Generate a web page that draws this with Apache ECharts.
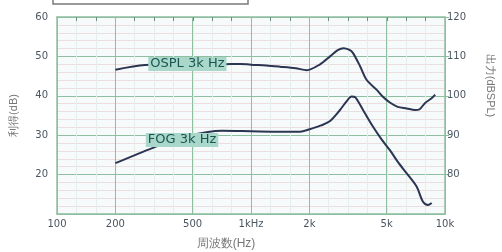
<!DOCTYPE html>
<html>
<head>
<meta charset="utf-8">
<script src="https://cdn.jsdelivr.net/npm/echarts@6/dist/echarts.min.js"></script>
<style>
  html, body { margin: 0; padding: 0; background: #fff; }
  #chart { width: 502px; height: 252px; }
</style>
</head>
<body>
<div id="chart"></div>
<script>
// eje X (Hz) y etiquetas
const xTickFreqs = [100, 200, 500, 1000, 2000, 5000, 10000];
const xTickLabels = ['100', '200', '500', '1kHz', '2k', '5k', '10k'];

// OSPL 3k Hz (dBSPL, eje derecho)
const osplFreq = [200, 284, 470, 700, 880, 1000, 1200, 1410, 1700, 1940, 2270, 2555, 2800, 3000, 3200, 3350, 3650, 3950, 4450, 4800, 5200, 5700, 6350, 7000, 7400, 7900, 8500, 8900];
const osplValue = [106.6, 107.8, 108, 108, 108.1, 107.9, 107.7, 107.4, 107, 106.5, 108, 110, 111.6, 112.1, 111.7, 110.9, 107.5, 104, 101.5, 99.7, 98.3, 97.2, 96.8, 96.4, 96.6, 98.2, 99.3, 100.3];

// FOG 3k Hz (dB, eje izquierdo)
const fogFreq = [200, 312, 440, 600, 709, 1000, 1400, 1790, 2090, 2300, 2555, 2875, 3100, 3300, 3450, 3780, 4250, 4700, 5200, 5700, 6350, 7150, 7700, 8170, 8540];
const fogValue = [22.9, 26.8, 29.5, 30.8, 31.1, 31, 30.9, 30.9, 31.8, 32.5, 33.6, 36.4, 38.5, 39.8, 39.6, 36.4, 32.2, 29, 26.2, 23.3, 20.3, 16.9, 13.1, 12.3, 12.8];

// etiquetas de las curvas
const curveLabels = ['OSPL 3k Hz', 'FOG 3k Hz'];
const labelFreq = [470, 441];
const labelValue = [108.1, 28.8];

const lg = v => Math.log10(v);
const toPairs = (f, v) => f.map((x, i) => [lg(x), v[i]]);

const green = '#8fbfa0';
const lineColor = '#2b3552';
const textColor = '#4a5560';

const chart = echarts.init(document.getElementById('chart'));

function curveLabel(i) {
    return {
        symbol: 'rect',
        symbolSize: 0,
        silent: true,
        label: {
            show: true,
            position: 'inside',
            formatter: curveLabels[i],
            backgroundColor: '#a9d8cb',
            color: '#1b5552',
            fontFamily: 'DejaVu Sans',
            fontSize: 13,
            padding: [1, 2, 0, 2]
        },
        data: [{ coord: [lg(labelFreq[i]), labelValue[i]] }]
    };
}

const option = {
    animation: false,
    backgroundColor: '#fff',
    grid: { left: 57, right: 57, top: 17, bottom: 38, backgroundColor: '#f6fafb', show: true, borderWidth: 0, outerBoundsMode: 'none' },
    graphic: [{
        type: 'rect',
        shape: { x: 53, y: -6, width: 195, height: 10 },
        style: { fill: '#fff', stroke: '#7a7a7a', lineWidth: 1.5 }
    }],
    xAxis: [{
        // rejilla menor y marcas superiores (cada 0.1 década)
        type: 'value', min: 2, max: 4, interval: 0.1, position: 'top', z: 0,
        axisLine: { show: true, lineStyle: { color: green, width: 1.5 } },
        axisTick: { show: true, inside: true, length: 4, lineStyle: { color: '#6d8f7d' } },
        axisLabel: { show: false },
        splitLine: { show: true, lineStyle: { color: '#e6eee9', width: 1 } }
    }, {
        type: 'value', min: 2, max: 4, position: 'bottom', z: 1,
        axisLine: { lineStyle: { color: green, width: 1.5 } },
        axisTick: { show: false, customValues: xTickFreqs.map(lg) },
        axisLabel: {
            customValues: xTickFreqs.map(lg),
            formatter: v => xTickLabels[xTickFreqs.findIndex(f => Math.abs(lg(f) - v) < 1e-6)],
            color: textColor, fontSize: 10, margin: 5, fontFamily: 'DejaVu Sans'
        },
        splitLine: { show: true, lineStyle: { color: green, width: 1 } },
        name: '周波数(Hz)', nameLocation: 'middle', nameGap: 24,
        nameTextStyle: { color: '#777', fontSize: 12, padding: [0, 50, 0, 0] }
    }],
    yAxis: [{
        type: 'value', min: 10, max: 60, interval: 10, position: 'left',
        axisLine: { show: true, lineStyle: { color: green, width: 1.5 } },
        axisTick: { show: false },
        axisLabel: { showMinLabel: false, color: textColor, fontSize: 10, margin: 9, fontFamily: 'DejaVu Sans' },
        splitLine: { lineStyle: { color: green, width: 1.2 } },
        minorTick: { show: false, splitNumber: 5 },
        minorSplitLine: { show: true, lineStyle: { color: '#ecdede', width: 1 } },
        name: '利得(dB)', nameLocation: 'middle', nameGap: 38,
        nameTextStyle: { color: '#777', fontSize: 11 }
    }, {
        type: 'value', min: 70, max: 120, interval: 10, position: 'right',
        axisLine: { show: true, lineStyle: { color: green, width: 1.5 } },
        axisTick: { show: true, length: 4, lineStyle: { color: green } },
        axisLabel: { showMinLabel: false, color: textColor, fontSize: 10, margin: 2, fontFamily: 'DejaVu Sans' },
        splitLine: { show: false },
        name: '出力(dBSPL)', nameLocation: 'middle', nameGap: 40, nameRotate: -90,
        nameTextStyle: { color: '#777', fontSize: 11, padding: [0, 60, 0, 0] }
    }],
    series: [{
        name: 'OSPL 3k Hz', type: 'line', yAxisIndex: 1, xAxisIndex: 1, z: 3,
        data: toPairs(osplFreq, osplValue),
        showSymbol: false, smooth: 0.3,
        lineStyle: { color: lineColor, width: 2 },
        markPoint: curveLabel(0)
    }, {
        name: 'FOG 3k Hz', type: 'line', yAxisIndex: 0, xAxisIndex: 1, z: 3,
        data: toPairs(fogFreq, fogValue),
        showSymbol: false, smooth: 0.3,
        lineStyle: { color: lineColor, width: 2 },
        markPoint: curveLabel(1)
    }]
};

chart.setOption(option);
</script>
</body>
</html>
